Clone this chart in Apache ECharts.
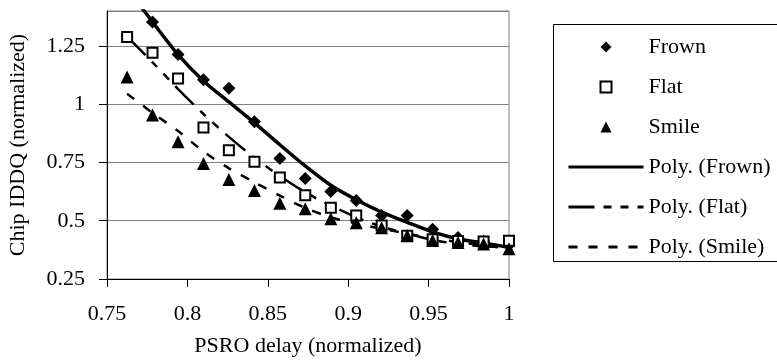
<!DOCTYPE html>
<html>
<head>
<meta charset="utf-8">
<script src="https://cdn.jsdelivr.net/npm/echarts@6/dist/echarts.min.js"></script>
<style>
  html, body { margin: 0; padding: 0; background: #fff; }
  #chart { width: 777px; height: 360px; }
</style>
</head>
<body>
<div id="chart"></div>
<script>
// PSRO delay (normalized), same x for every series
const psro = [0.7625, 0.7783, 0.7942, 0.8100, 0.8258, 0.8417, 0.8575, 0.8733,
              0.8892, 0.9050, 0.9208, 0.9367, 0.9525, 0.9683, 0.9842, 1.0];

// measured points
const frown = [null, 1.353, 1.213, 1.105, 1.069, 0.925, 0.767, 0.681,
               0.626, 0.587, 0.522, 0.522, 0.463, 0.428, 0.412, 0.395];
const flat  = [1.288, 1.221, 1.110, 0.900, 0.803, 0.753, 0.686, 0.609,
               0.556, 0.523, 0.480, 0.436, 0.421, 0.413, 0.411, 0.414];
const smile = [1.117, 0.954, 0.839, 0.746, 0.677, 0.630, 0.575, 0.551,
               0.508, 0.491, 0.470, 0.436, 0.415, 0.407, 0.400, 0.380];

// trend lines
const frownFit = [1.500, 1.353, 1.213, 1.100, 1.010, 0.920, 0.826, 0.735,
                  0.652, 0.590, 0.537, 0.493, 0.452, 0.422, 0.405, 0.385];
const flatFit  = [1.290, 1.180, 1.065, 0.958, 0.860, 0.770, 0.692, 0.622,
                  0.565, 0.515, 0.475, 0.445, 0.418, 0.400, 0.390, 0.385];
const smileFit = [1.045, 0.963, 0.885, 0.797, 0.725, 0.665, 0.608, 0.555,
                  0.515, 0.488, 0.466, 0.445, 0.425, 0.408, 0.394, 0.380];

const yMin = 0.25, yMax = 1.4, yStep = 0.25;
const xMin = 0.75, xMax = 1, xStep = 0.05;

const FONT = '"Liberation Serif", "Times New Roman", serif';

// path icons keep their aspect inside the wide legend slot
const DIAMOND = 'path://M0,-1L1,0L0,1L-1,0Z';
const SQUARE = 'path://M-1,-1L1,-1L1,1L-1,1Z';
const TRIANGLE = 'path://M0,-1L1,1L-1,1Z';

const pairs = (ys) => psro.map((x, i) => [x, ys[i]]);
// legend draws a symbol on line icons, hide it
const noDot = { color: 'rgba(0,0,0,0)', borderWidth: 0 };

var myChart = echarts.init(document.getElementById('chart'));
var option = {
  animation: false,
  textStyle: { fontFamily: FONT, color: '#000' },
  grid: {
    left: 107, right: 268, top: 11, bottom: 81,
    outerBoundsMode: 'none',
    show: true, borderColor: '#808080', borderWidth: 1
  },
  graphic: [{
    type: 'rect',
    shape: { x: 553.5, y: 24.5, width: 240, height: 237 },
    style: { fill: 'none', stroke: '#000', lineWidth: 1 },
    z: 0
  }],
  legend: {
    orient: 'vertical',
    left: 562, top: 31,
    itemWidth: 75, itemHeight: 11, itemGap: 18,
    symbolKeepAspect: true,
    lineStyle: { width: 3 },
    textStyle: { fontFamily: FONT, fontSize: 22, color: '#000', lineHeight: 22 },
    data: [
      { name: 'Frown', icon: DIAMOND },
      { name: 'Flat', icon: SQUARE },
      { name: 'Smile', icon: TRIANGLE },
      { name: 'Poly. (Frown)', itemStyle: noDot },
      { name: 'Poly. (Flat)', itemStyle: noDot },
      { name: 'Poly. (Smile)', itemStyle: noDot }
    ]
  },
  xAxis: {
    type: 'value', min: xMin, max: xMax, interval: xStep,
    name: 'PSRO delay (normalized)', nameLocation: 'middle', nameGap: 56,
    nameTextStyle: { fontFamily: FONT, fontSize: 22, color: '#000', lineHeight: 22 },
    axisLine: { lineStyle: { color: '#000', width: 1 } },
    axisTick: { length: 8, lineStyle: { color: '#000' } },
    axisLabel: { fontFamily: FONT, fontSize: 22, color: '#000', margin: 24, lineHeight: 22 },
    splitLine: { show: false }
  },
  yAxis: {
    type: 'value', min: yMin, max: yMax, interval: yStep,
    name: 'Chip IDDQ (normalized)', nameLocation: 'middle', nameGap: 78, nameRotate: 90,
    nameTextStyle: { fontFamily: FONT, fontSize: 22, color: '#000', lineHeight: 22 },
    axisLine: { show: true, lineStyle: { color: '#000', width: 1 } },
    axisTick: { show: true, length: 8, lineStyle: { color: '#000' } },
    axisLabel: {
      fontFamily: FONT, fontSize: 22, color: '#000', margin: 22, lineHeight: 22,
      showMaxLabel: false, verticalAlignMinLabel: 'middle'
    },
    splitLine: { show: true, lineStyle: { color: '#808080', width: 1 } }
  },
  series: [
    {
      name: 'Frown', type: 'scatter', symbol: 'diamond', symbolSize: 13,
      itemStyle: { color: '#000', opacity: 1 }, data: pairs(frown), z: 3
    },
    {
      name: 'Flat', type: 'scatter', symbol: 'rect', symbolSize: 10,
      itemStyle: { color: '#fff', borderColor: '#000', borderWidth: 2, opacity: 1 },
      data: pairs(flat), z: 3
    },
    {
      name: 'Smile', type: 'scatter', symbol: 'triangle', symbolSize: 13,
      itemStyle: { color: '#000', opacity: 1 }, data: pairs(smile), z: 3
    },
    {
      name: 'Poly. (Frown)', type: 'line', symbol: 'none', smooth: 0.3,
      lineStyle: { color: '#000', width: 3.5 }, itemStyle: noDot,
      data: pairs(frownFit), z: 2
    },
    {
      name: 'Poly. (Flat)', type: 'line', symbol: 'none', smooth: 0.3,
      lineStyle: { color: '#000', width: 2.5, type: [26, 9, 8, 9, 8, 9] }, itemStyle: noDot,
      data: pairs(flatFit), z: 2
    },
    {
      name: 'Poly. (Smile)', type: 'line', symbol: 'none', smooth: 0.3,
      lineStyle: { color: '#000', width: 2.5, type: [9, 11] }, itemStyle: noDot,
      data: pairs(smileFit), z: 2
    }
  ]
};
option && myChart.setOption(option);
</script>
</body>
</html>
